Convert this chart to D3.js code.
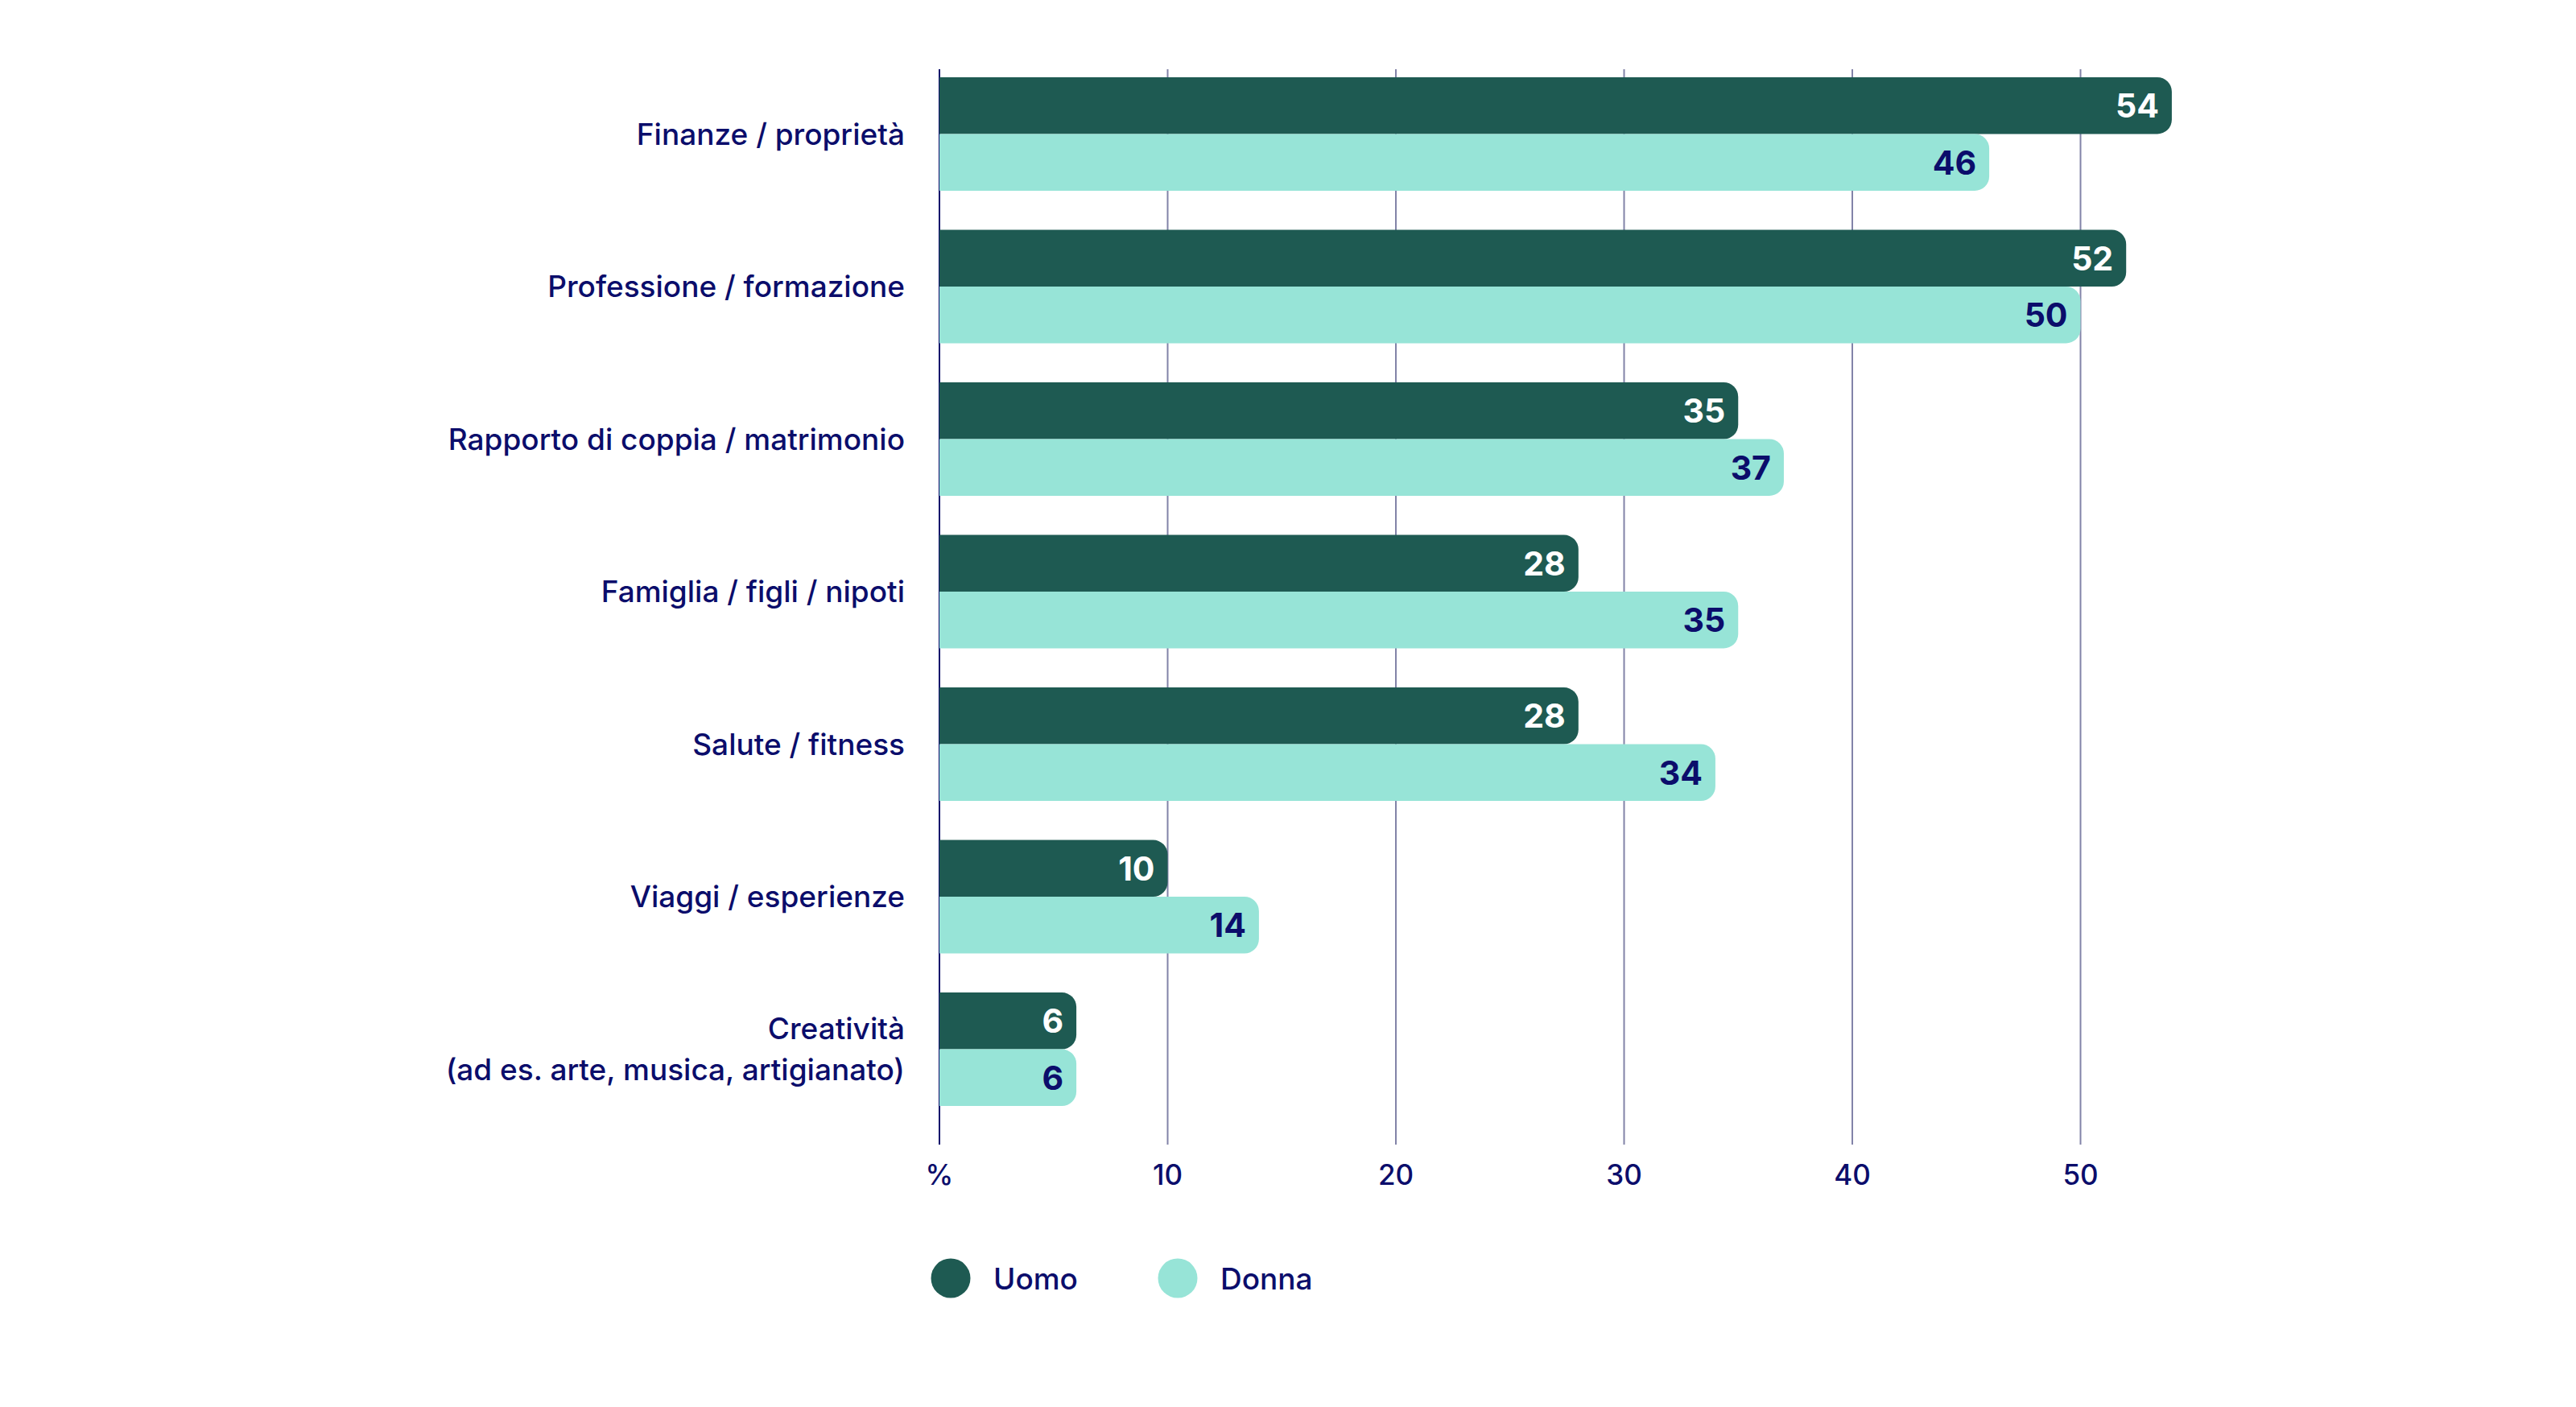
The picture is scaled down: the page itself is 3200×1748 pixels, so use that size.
<!DOCTYPE html>
<html lang="it">
<head>
<meta charset="UTF-8">
<title>Chart</title>
<script src="https://d3js.org/d3.v7.min.js"></script>
<style>
  body { margin: 0; background: #fff; }
  text { font-family: Inter, Lato, "Noto Sans", sans-serif; }
</style>
</head>
<body>
<svg id="chart" width="3200" height="1748"></svg>
<script>
// data
const categories = [
  ["Finanze / proprietà"],
  ["Professione / formazione"],
  ["Rapporto di coppia / matrimonio"],
  ["Famiglia / figli / nipoti"],
  ["Salute / fitness"],
  ["Viaggi / esperienze"],
  ["Creatività", "(ad es. arte, musica, artigianato)"]
];
const uomo = [54, 52, 35, 28, 28, 10, 6];
const donna = [46, 50, 37, 35, 34, 14, 6];
const seriesNames = ["Uomo", "Donna"];
const tickValues = [0, 10, 20, 30, 40, 50];
const tickLabels = ["%", "10", "20", "30", "40", "50"];

const navy = "#0b0d6b";
const colors = { Uomo: "#1e5a52", Donna: "#97e4d7" };
const textColors = { Uomo: "#ffffff", Donna: navy };

const svg = d3.select("#chart");

const x = d3.scaleLinear().domain([0, 10]).range([1167, 1450.5]);
const y = d3.scaleBand()
  .domain(d3.range(categories.length))
  .range([96, 1374])
  .paddingInner(0.256)
  .paddingOuter(0);
const ySub = d3.scaleBand().domain(seriesNames).range([0, y.bandwidth()]);

// gridlines
const grid = svg.append("g");
grid.selectAll("line").data(tickValues).join("line")
  .attr("x1", d => x(d)).attr("x2", d => x(d))
  .attr("y1", 86).attr("y2", 1422)
  .attr("stroke", d => d === 0 ? navy : "#8283a8")
  .attr("stroke-width", 2);

// tick labels
svg.append("g").selectAll("text").data(tickValues).join("text")
  .attr("x", d => x(d))
  .attr("y", 1459)
  .attr("text-anchor", "middle")
  .attr("dominant-baseline", "central")
  .attr("font-size", 35)
  .attr("font-weight", 500)
  .attr("fill", navy)
  .text((d, i) => tickLabels[i]);

// bar with rounded right end
function barPath(x0, x1, y0, h, r) {
  const p = d3.path();
  p.moveTo(x0, y0);
  p.lineTo(x1 - r, y0);
  p.arcTo(x1, y0, x1, y0 + r, r);
  p.lineTo(x1, y0 + h - r);
  p.arcTo(x1, y0 + h, x1 - r, y0 + h, r);
  p.lineTo(x0, y0 + h);
  p.closePath();
  return p.toString();
}

const rows = categories.map((c, i) => ({ i, label: c, Uomo: uomo[i], Donna: donna[i] }));

const groups = svg.append("g").selectAll("g").data(rows).join("g")
  .attr("transform", d => `translate(0,${y(d.i)})`);

seriesNames.forEach(s => {
  groups.append("path")
    .attr("d", d => barPath(x(0), x(d[s]), ySub(s), ySub.bandwidth(), 18))
    .attr("fill", colors[s]);
  groups.append("text")
    .attr("x", d => x(d[s]) - 16)
    .attr("y", ySub(s) + ySub.bandwidth() / 2)
    .attr("text-anchor", "end")
    .attr("dominant-baseline", "central")
    .attr("font-size", 41)
    .attr("font-weight", 700)
    .attr("fill", textColors[s])
    .text(d => d[s]);
});

// category labels
groups.each(function (d) {
  const g = d3.select(this);
  const n = d.label.length;
  d.label.forEach((line, k) => {
    g.append("text")
      .attr("x", 1124)
      .attr("y", y.bandwidth() / 2 + (k - (n - 1) / 2) * 51)
      .attr("text-anchor", "end")
      .attr("dominant-baseline", "central")
      .attr("font-size", 37)
      .attr("font-weight", 500)
      .attr("fill", navy)
      .text(line);
  });
});

// legend
const legendX = d3.scalePoint().domain(seriesNames).range([1181, 1463]);
const legend = svg.append("g").selectAll("g").data(seriesNames).join("g")
  .attr("transform", d => `translate(${legendX(d)},1588)`);
legend.append("circle").attr("r", 24.5).attr("fill", d => colors[d]);
legend.append("text")
  .attr("x", 53)
  .attr("dominant-baseline", "central")
  .attr("font-size", 37)
  .attr("font-weight", 500)
  .attr("fill", navy)
  .text(d => d);
</script>
</body>
</html>
